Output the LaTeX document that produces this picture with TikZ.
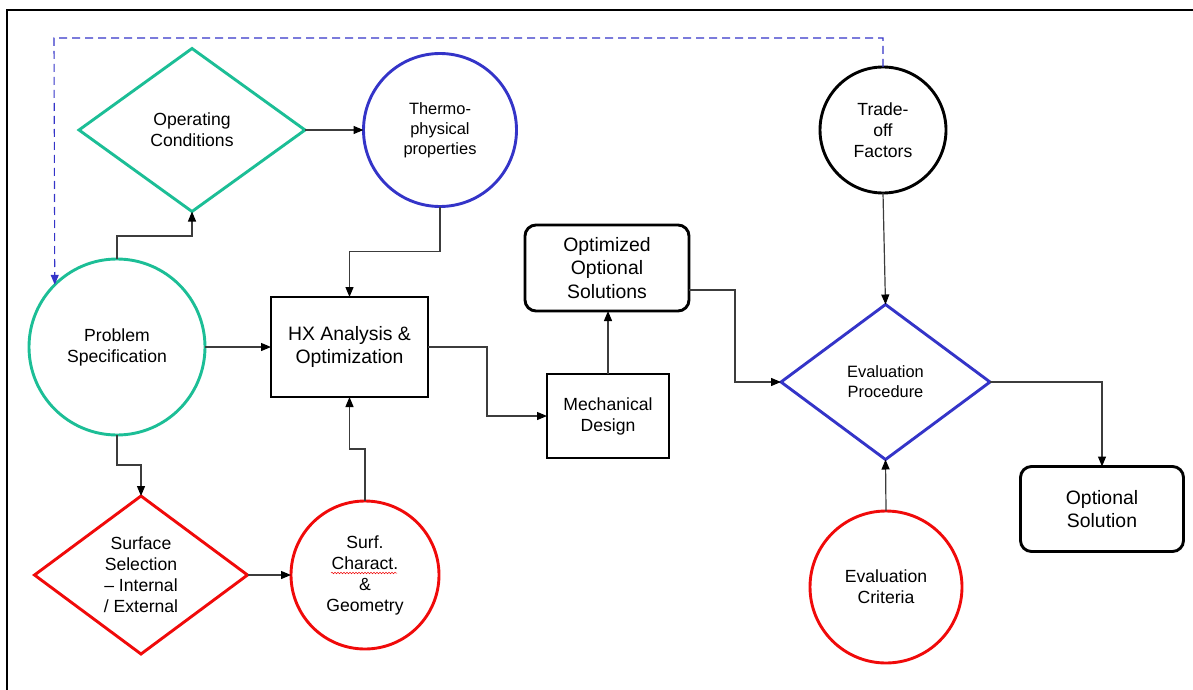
\documentclass[tikz,border=0pt]{standalone}
\usepackage{fontspec}
\setmainfont{Liberation Sans}
\usetikzlibrary{shapes.geometric,arrows.meta,decorations.pathmorphing,calc}

\definecolor{specgreen}{RGB}{28,190,150}
\definecolor{evalblue}{RGB}{52,52,200}
\definecolor{critred}{RGB}{240,10,10}
\definecolor{linkgray}{RGB}{60,60,60}

\begin{document}
\begin{tikzpicture}[x=1pt,y=-1pt,
  base/.style={inner sep=0pt, outer sep=0pt, line width=2.9pt},
  circ/.style={base, circle, draw=#1},
  dia/.style={base, diamond, draw=#1},
  box/.style={base, rectangle, draw=black},
  rbox/.style={box, rounded corners=11pt},
  lbl/.style={align=center, inner sep=0pt, font=\fontsize{17.6}{21}\selectfont},
  biglbl/.style={lbl, font=\fontsize{19.4}{23.5}\selectfont},
  smalllbl/.style={lbl, font=\fontsize{16.4}{20}\selectfont},
  link/.style={draw=linkgray, line width=1.2pt,
    -{Triangle[length=10pt,width=8pt,color=black]}},
  feedback/.style={draw=evalblue, line width=1.1pt, dash pattern=on 8pt off 5pt,
    -{Triangle[length=10pt,width=8pt,color=evalblue]}},
  frame/.style={draw=black, line width=2.8pt}
]
\useasboundingbox (0,0) rectangle (1193,690);

% page frame (left and top edges)
\draw[frame] (7,690) -- (7,10) -- (1193,10);

% nodes
\node[circ=specgreen, minimum size=176pt,
      label={[lbl]center:{Problem\\Specification}}] (ps) at (117,347) {};
\node[dia=specgreen, minimum width=226pt, minimum height=163pt,
      label={[lbl]center:{Operating\\Conditions}}] (oc) at (192,130) {};
\node[circ=evalblue, minimum size=153pt,
      label={[smalllbl]center:{Thermo-\\physical\\properties}}] (tp) at (440,130) {};
\node[box, minimum width=157pt, minimum height=100pt,
      label={[biglbl]center:{HX Analysis \&\\Optimization}}] (hx) at (349.5,347) {};
\node[dia=critred, minimum width=213pt, minimum height=158pt,
      label={[lbl]center:{Surface\\Selection\\– Internal\\/ External}}] (ss) at (141,575) {};
\node[circ=critred, minimum size=148pt,
      label={[lbl]center:{Surf.\\Charact.\\\&\\Geometry}}] (sc) at (365,575) {};
\node[box, minimum width=122pt, minimum height=84pt,
      label={[lbl]center:{Mechanical\\Design}}] (md) at (608,416) {};
\node[rbox, minimum width=164pt, minimum height=86pt,
      label={[biglbl]center:{Optimized\\Optional\\Solutions}}] (oos) at (607,268) {};
\node[dia=evalblue, minimum width=209pt, minimum height=155pt,
      label={[smalllbl]center:{Evaluation\\Procedure}}] (ep) at (885.5,382) {};
\node[circ=black, minimum size=126pt,
      label={[lbl]center:{Trade-\\off\\Factors}}] (tf) at (883,130) {};
\node[circ=critred, minimum size=152pt,
      label={[lbl]center:{Evaluation\\Criteria}}] (ec) at (886,587) {};
\node[rbox, minimum width=163pt, minimum height=85pt,
      label={[biglbl]center:{Optional\\Solution}}] (os) at (1102,509) {};

% spell-check squiggle under "Charact."
\draw[critred, line width=0.5pt,
      decorate, decoration={snake, segment length=3pt, amplitude=0.8pt}]
  ($(sc)+(-34,-2)$) -- ($(sc)+(32,-2)$);

% connectors
\draw[link] (ps.north) -- ++(0,-23) -| (oc.south);
\draw[link] (oc.east) -- (tp.west);
\draw[link] (tp.south) -- ++(0,45) -| (hx.north);
\draw[link] (ps.east) -- (hx.west);
\draw[link] (ps.south) -- ++(0,30) -| (ss.north);
\draw[link] (ss.east) -- (sc.west);
\draw[link] (sc.north) -- ++(0,-52) -| (hx.south);
\draw[link] (hx.east) -- ++(59,0) |- (md.west);
\draw[link] (md.north) -- (md.north |- oos.south);
\draw[link] ([yshift=-22pt]oos.east) -- ++(46,0) |- (ep.west);
\draw[link] (tf.south) -- (ep.north);
\draw[link] (ep.east) -| (os.north);
\draw[link] (ec.north) -- (ep.south);

% feedback loop from the trade-off factors to the problem specification
\coordinate (fbc) at (54,38);
\draw[feedback] (tf.north) |- (fbc) -- (ps.135.7);
\end{tikzpicture}
\end{document}
